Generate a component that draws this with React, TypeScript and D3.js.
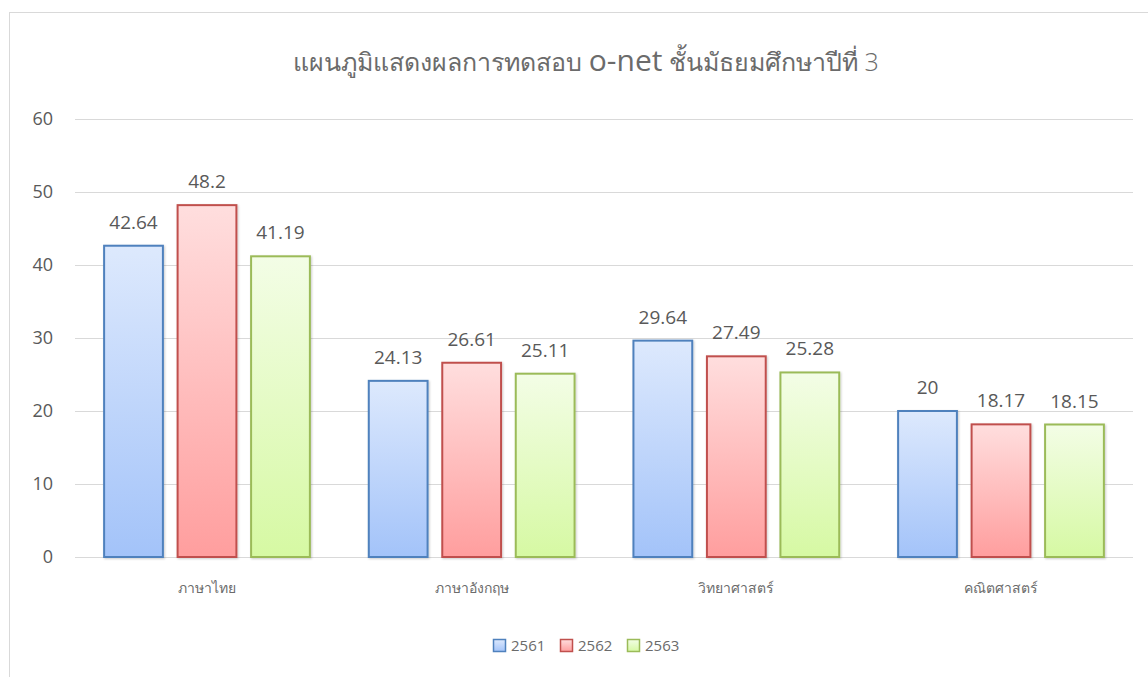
import React, { useEffect, useRef } from 'react';
import * as d3 from 'd3';

const subjects = ['ภาษาไทย', 'ภาษาอังกฤษ', 'วิทยาศาสตร์', 'คณิตศาสตร์'];
const years = ['2561', '2562', '2563'];
const scores2561 = [42.64, 24.13, 29.64, 20];
const scores2562 = [48.2, 26.61, 27.49, 18.17];
const scores2563 = [41.19, 25.11, 25.28, 18.15];
const yTicks = [0, 10, 20, 30, 40, 50, 60];

const seriesStyle = [
  { stroke: '#4f81bd', top: '#dde9fd', bottom: '#a3c3f9' },
  { stroke: '#c0504d', top: '#ffdede', bottom: '#ff9e9e' },
  { stroke: '#9bbb59', top: '#f3fde6', bottom: '#d6f9a3' },
];

const W = 1148;
const H = 677;
const margin = { top: 119, right: 15, bottom: 120, left: 75 };
const FONT = "'Open Sans', 'Noto Sans', 'DejaVu Sans', sans-serif";

const App: React.FC = () => {
  const svgRef = useRef<SVGSVGElement>(null);

  useEffect(() => {
    if (!svgRef.current) return;
    const svg = d3.select(svgRef.current);
    svg.selectAll('*').remove();

    const series = [scores2561, scores2562, scores2563];

    // gradients
    const defs = svg.append('defs');
    seriesStyle.forEach((s, i) => {
      const lg = defs.append('linearGradient')
        .attr('id', `grad${i}`)
        .attr('x1', 0).attr('y1', 0).attr('x2', 0).attr('y2', 1);
      lg.append('stop').attr('offset', '0%').attr('stop-color', s.top);
      lg.append('stop').attr('offset', '100%').attr('stop-color', s.bottom);
    });
    const f = defs.append('filter').attr('id', 'shadow')
      .attr('x', '-10%').attr('y', '-10%').attr('width', '130%').attr('height', '130%');
    f.append('feDropShadow').attr('dx', 1).attr('dy', 1).attr('stdDeviation', 1)
      .attr('flood-color', '#000').attr('flood-opacity', 0.2);

    // chart frame
    svg.append('rect')
      .attr('x', 9.5).attr('y', 12.5)
      .attr('width', W + 20).attr('height', H + 20)
      .attr('fill', '#fff').attr('stroke', '#d9d9d9');

    const innerW = W - margin.left - margin.right;
    const innerH = H - margin.top - margin.bottom;
    const g = svg.append('g').attr('transform', `translate(${margin.left},${margin.top})`);

    const x0 = d3.scaleBand().domain(subjects).range([0, innerW]).paddingInner(0.2225).paddingOuter(0.11);
    const x1 = d3.scaleBand().domain(years).range([0, x0.bandwidth()]).paddingInner(0.2);
    const y = d3.scaleLinear().domain([0, 60]).range([innerH, 0]);

    // gridlines
    g.selectAll('.grid')
      .data(yTicks)
      .enter()
      .append('line')
      .attr('x1', 0).attr('x2', innerW)
      .attr('y1', d => Math.round(y(d)) + 0.5)
      .attr('y2', d => Math.round(y(d)) + 0.5)
      .attr('stroke', '#d9d9d9').attr('stroke-width', 1);

    // y labels
    g.selectAll('.ylab')
      .data(yTicks)
      .enter()
      .append('text')
      .attr('x', -22)
      .attr('y', d => y(d))
      .attr('dy', '0.35em')
      .attr('text-anchor', 'end')
      .attr('font-family', FONT)
      .attr('font-size', 18)
      .attr('fill', '#595959')
      .text(d => d);

    // bars
    subjects.forEach((subj, ci) => {
      const grp = g.append('g').attr('transform', `translate(${x0(subj)},0)`);
      years.forEach((yr, si) => {
        const v = series[si][ci];
        const bx = x1(yr)!;
        grp.append('rect')
          .attr('x', bx)
          .attr('y', y(v))
          .attr('width', x1.bandwidth())
          .attr('height', y(0) - y(v))
          .attr('fill', `url(#grad${si})`)
          .attr('stroke', seriesStyle[si].stroke)
          .attr('stroke-width', 2)
          .attr('filter', 'url(#shadow)');
        grp.append('text')
          .attr('x', bx + x1.bandwidth() / 2)
          .attr('y', y(v) - 17)
          .attr('text-anchor', 'middle')
          .attr('font-family', FONT)
          .attr('font-size', 19)
          .attr('fill', '#595959')
          .text(v);
      });
      g.append('text')
        .attr('x', x0(subj)! + x0.bandwidth() / 2)
        .attr('y', innerH + 36)
        .attr('text-anchor', 'middle')
        .attr('font-family', FONT)
        .attr('font-size', 14)
        .attr('fill', '#6b6b6b')
        .text(subj);
    });

    // title
    const title = svg.append('text')
      .attr('x', 586)
      .attr('y', 71)
      .attr('text-anchor', 'middle')
      .attr('font-family', FONT)
      .attr('font-size', 25)
      .attr('font-weight', 300)
      .attr('fill', '#6b6b6b');
    title.append('tspan').text('แผนภูมิแสดงผลการทดสอบ ');
    title.append('tspan').attr('font-size', 30).attr('font-weight', 400).text('o-net');
    title.append('tspan').text(' ชั้นมัธยมศึกษาปีที่ 3');

    // legend
    const legend = svg.append('g').attr('transform', 'translate(493,639)');
    years.forEach((yr, i) => {
      const lg = legend.append('g').attr('transform', `translate(${i * 67},0)`);
      lg.append('rect')
        .attr('x', 0.5).attr('y', 0.5).attr('width', 12).attr('height', 12)
        .attr('fill', `url(#grad${i})`)
        .attr('stroke', seriesStyle[i].stroke).attr('stroke-width', 1.5);
      lg.append('text')
        .attr('x', 18).attr('y', 7).attr('dy', '0.35em')
        .attr('font-family', FONT).attr('font-size', 15)
        .attr('fill', '#6b6b6b')
        .text(yr);
    });
  }, []);

  return (
    <svg
      ref={svgRef}
      width={W}
      height={H}
      style={{ position: 'absolute', left: 0, top: 0, display: 'block', background: '#fff' }}
    />
  );
};

export default App;
